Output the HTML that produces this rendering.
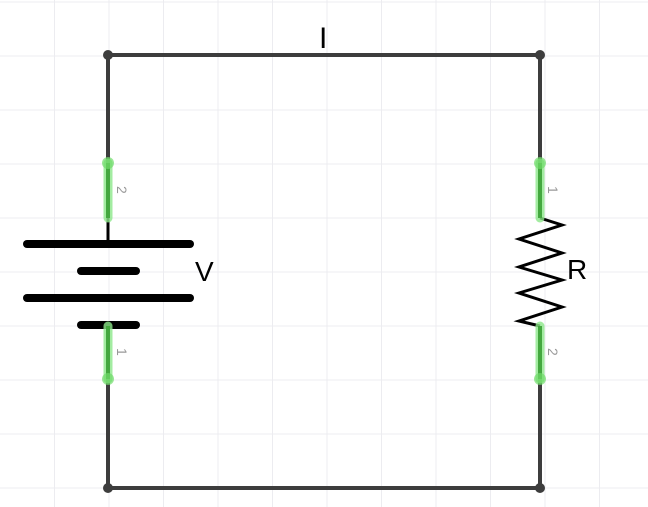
<!DOCTYPE html>
<html><head><meta charset="utf-8"><style>
html,body{margin:0;padding:0;background:#fff;}
svg{display:block;font-family:"Liberation Sans","DejaVu Sans",sans-serif;}
</style></head><body>
<svg width="648" height="507" viewBox="0 0 648 507">
<g stroke="#ececf0" stroke-width="1">
<line x1="54.5" y1="0" x2="54.5" y2="507"/><line x1="109" y1="0" x2="109" y2="507"/><line x1="163.5" y1="0" x2="163.5" y2="507"/><line x1="218" y1="0" x2="218" y2="507"/><line x1="272.5" y1="0" x2="272.5" y2="507"/><line x1="327" y1="0" x2="327" y2="507"/><line x1="381.5" y1="0" x2="381.5" y2="507"/><line x1="436" y1="0" x2="436" y2="507"/><line x1="490.5" y1="0" x2="490.5" y2="507"/><line x1="545" y1="0" x2="545" y2="507"/><line x1="599.5" y1="0" x2="599.5" y2="507"/>
<line x1="0" y1="2" x2="648" y2="2"/><line x1="0" y1="56" x2="648" y2="56"/><line x1="0" y1="110" x2="648" y2="110"/><line x1="0" y1="164" x2="648" y2="164"/><line x1="0" y1="218" x2="648" y2="218"/><line x1="0" y1="272" x2="648" y2="272"/><line x1="0" y1="326" x2="648" y2="326"/><line x1="0" y1="380" x2="648" y2="380"/><line x1="0" y1="434" x2="648" y2="434"/><line x1="0" y1="488" x2="648" y2="488"/>
</g>
<g stroke="#3d3d3d" stroke-width="4" fill="none">
<polyline points="108,163 108,55 540,55 540,163"/>
<polyline points="108,379 108,488 540,488 540,379"/>
</g>
<g fill="#3d3d3d">
<circle cx="108" cy="55" r="5"/><circle cx="540" cy="55" r="5"/><circle cx="108" cy="488" r="5"/><circle cx="540" cy="488" r="5"/>
</g>
<g>
<line x1="108" y1="216" x2="108" y2="244" stroke="#000" stroke-width="3"/>
<g stroke="#000" stroke-width="8" stroke-linecap="round">
<line x1="27" y1="244" x2="190" y2="244"/><line x1="81" y1="271" x2="136" y2="271"/>
<line x1="27" y1="298" x2="190" y2="298"/><line x1="81" y1="325" x2="136" y2="325"/>
</g>
<g stroke="#8de88a" stroke-width="9" stroke-linecap="round" opacity="0.8"><line x1="108" y1="163" x2="108" y2="218"/><line x1="108" y1="326" x2="108" y2="379"/></g>
<g stroke="#44a83f" stroke-width="4"><line x1="108" y1="163" x2="108" y2="218"/><line x1="108" y1="326" x2="108" y2="379"/></g>
<circle cx="108" cy="163" r="6" fill="#6fdc6a" opacity="0.7"/><circle cx="108" cy="379" r="6" fill="#6fdc6a" opacity="0.7"/>
<text x="117" y="186" font-size="14" fill="#999" transform="rotate(90 117 186)">2</text>
<text x="117" y="348" font-size="14" fill="#999" transform="rotate(90 117 348)">1</text>
<text x="195" y="281" font-size="28" fill="#000">V</text>
</g>
<g>
<polyline points="540,218 562,225 519,239 562,253 519,267 562,280 519,293 562,307 519,321 540,326" fill="none" stroke="#000" stroke-width="3" stroke-linejoin="miter"/>
<g stroke="#8de88a" stroke-width="9" stroke-linecap="round" opacity="0.8"><line x1="540" y1="163" x2="540" y2="218"/><line x1="540" y1="326" x2="540" y2="379"/></g>
<g stroke="#44a83f" stroke-width="4"><line x1="540" y1="163" x2="540" y2="218"/><line x1="540" y1="326" x2="540" y2="379"/></g>
<circle cx="540" cy="163" r="6" fill="#6fdc6a" opacity="0.7"/><circle cx="540" cy="379" r="6" fill="#6fdc6a" opacity="0.7"/>
<text x="548" y="186" font-size="14" fill="#999" transform="rotate(90 548 186)">1</text>
<text x="548" y="348" font-size="14" fill="#999" transform="rotate(90 548 348)">2</text>
<text x="567" y="279" font-size="28" fill="#000">R</text>
</g>
<text x="319" y="48" font-size="30" fill="#000">I</text>
</svg>
</body></html>
